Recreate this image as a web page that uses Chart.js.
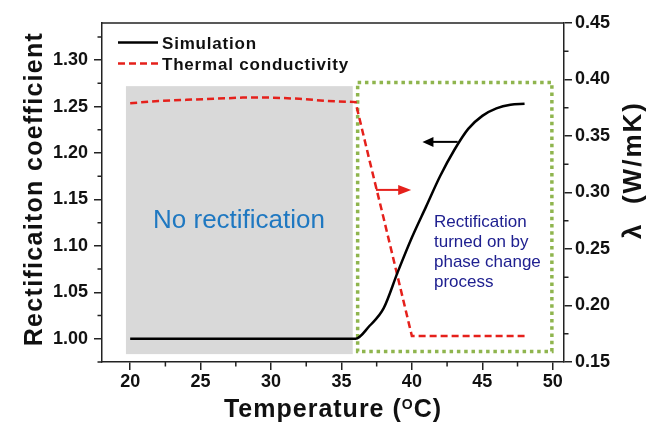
<!DOCTYPE html>
<html>
<head>
<meta charset="utf-8">
<script src="https://cdn.jsdelivr.net/npm/chart.js@4.4.0/dist/chart.umd.min.js"></script>
<style>
  html, body { margin: 0; padding: 0; background: #fff; }
</style>
</head>
<body>
<canvas id="chart" width="647" height="424"></canvas>
<script>
// values
const temperature = [20, 22, 24, 26, 28, 30, 32, 34, 36, 37, 38, 39, 40, 41, 42, 43, 44, 45, 46, 47, 48];
const simulation = [1.000, 1.000, 1.000, 1.000, 1.000, 1.000, 1.000, 1.000, 1.000, 1.014, 1.033, 1.072, 1.109, 1.142, 1.175, 1.203, 1.226, 1.240, 1.248, 1.252, 1.253];
const conductivity = [0.379, 0.381, 0.382, 0.383, 0.384, 0.384, 0.383, 0.381, 0.380, 0.328, 0.277, 0.225, 0.173, 0.173, 0.173, 0.173, 0.173, 0.173, 0.173, 0.173, 0.173];
const seriesNames = ['Simulation', 'Thermal conductivity'];

// shaded regions, in data units (x: temperature, y: left axis)
const grayRegion = { x0: 19.7, x1: 35.8, y0: 0.9835, y1: 1.272 };
const greenRegion = { x0: 36.15, x1: 49.94, y0: 0.9863, y1: 1.276 };

const FONT = '"Liberation Sans", Arial, sans-serif';

const points = (ys) => temperature.map((t, i) => ({ x: t, y: ys[i] }));

function arrow(ctx, x1, y1, x2, y2, color, len, half) {
  const a = Math.atan2(y2 - y1, x2 - x1);
  ctx.save();
  ctx.strokeStyle = color;
  ctx.fillStyle = color;
  ctx.lineWidth = 2;
  ctx.beginPath();
  ctx.moveTo(x1, y1);
  ctx.lineTo(x2 - Math.cos(a) * len * 0.8, y2 - Math.sin(a) * len * 0.8);
  ctx.stroke();
  ctx.beginPath();
  ctx.moveTo(x2, y2);
  ctx.lineTo(x2 - Math.cos(a) * len - Math.sin(a) * half, y2 - Math.sin(a) * len + Math.cos(a) * half);
  ctx.lineTo(x2 - Math.cos(a) * len + Math.sin(a) * half, y2 - Math.sin(a) * len - Math.cos(a) * half);
  ctx.closePath();
  ctx.fill();
  ctx.restore();
}

const decorations = {
  id: 'decorations',
  beforeDatasetsDraw(chart) {
    const { ctx, scales: { x, y } } = chart;
    ctx.save();
    ctx.fillStyle = '#d9d9d9';
    const gx = x.getPixelForValue(grayRegion.x0), gy = y.getPixelForValue(grayRegion.y1);
    ctx.fillRect(gx, gy, x.getPixelForValue(grayRegion.x1) - gx, y.getPixelForValue(grayRegion.y0) - gy);

    ctx.strokeStyle = '#8fb54e';
    ctx.lineWidth = 3.5;
    ctx.setLineDash([3.5, 3.8]);
    const bx = x.getPixelForValue(greenRegion.x0), by = y.getPixelForValue(greenRegion.y1);
    ctx.strokeRect(bx, by, x.getPixelForValue(greenRegion.x1) - bx, y.getPixelForValue(greenRegion.y0) - by);

    ctx.setLineDash([]);
    ctx.font = '26px ' + FONT;
    ctx.fillStyle = '#1f78c1';
    ctx.textAlign = 'center';
    ctx.fillText('No rectification', 239, 228);
    ctx.restore();
  },
  afterDatasetsDraw(chart) {
    const { ctx, chartArea: a, scales: { x, y, y1 } } = chart;
    ctx.save();

    // top of the frame
    ctx.strokeStyle = '#222';
    ctx.lineWidth = 1.5;
    ctx.beginPath();
    ctx.moveTo(a.left, a.top);
    ctx.lineTo(a.right, a.top);
    ctx.stroke();

    // minor ticks halfway between the major ones
    const minor = (scale) => {
      const v = scale.ticks.map(t => t.value);
      const step = v[1] - v[0];
      const out = [];
      for (let m = v[0] - step / 2; m <= scale.max + 1e-9; m += step) {
        if (m >= scale.min - 1e-9) out.push(m);
      }
      return out;
    };
    ctx.beginPath();
    minor(x).forEach(v => { const p = x.getPixelForValue(v); ctx.moveTo(p, a.bottom); ctx.lineTo(p, a.bottom + 4.5); });
    minor(y).forEach(v => { const p = y.getPixelForValue(v); ctx.moveTo(a.left, p); ctx.lineTo(a.left - 4.5, p); });
    minor(y1).forEach(v => { const p = y1.getPixelForValue(v); ctx.moveTo(a.right, p); ctx.lineTo(a.right + 4.5, p); });
    ctx.stroke();

    // arrows pointing at the axis of each curve
    arrow(ctx, x.getPixelForValue(43.25), y.getPixelForValue(1.212), x.getPixelForValue(40.75), y.getPixelForValue(1.212), '#000', 11, 5);
    arrow(ctx, x.getPixelForValue(37.45), y1.getPixelForValue(0.3023), x.getPixelForValue(39.95), y1.getPixelForValue(0.3023), '#e5201b', 13, 5);

    // legend
    const ds = chart.data.datasets;
    ctx.letterSpacing = '0.8px';
    ctx.font = 'bold 17px ' + FONT;
    ctx.fillStyle = '#111';
    ctx.textAlign = 'left';
    [0, 1].forEach(i => {
      const ly = a.top + 19.5 + i * 21;
      ctx.strokeStyle = ds[i].borderColor;
      ctx.lineWidth = ds[i].borderWidth;
      ctx.setLineDash(ds[i].borderDash || []);
      ctx.beginPath();
      ctx.moveTo(a.left + 16, ly);
      ctx.lineTo(a.left + 56, ly);
      ctx.stroke();
      ctx.setLineDash([]);
      ctx.fillText(seriesNames[i], a.left + 60, ly + 6.2);
    });

    // note in the green box
    ctx.letterSpacing = '0px';
    ctx.font = '17px ' + FONT;
    ctx.fillStyle = '#1f2090';
    ['Rectification', 'turned on by', 'phase change', 'process'].forEach((s, i) => {
      ctx.fillText(s, 434, 226.7 + i * 20);
    });

    // axis titles
    ctx.fillStyle = '#111';
    ctx.letterSpacing = '1px';
    const t1 = 'Temperature (', t3 = 'C)';
    ctx.font = 'bold 25px ' + FONT;
    const w1 = ctx.measureText(t1).width, w3 = ctx.measureText(t3).width;
    ctx.font = 'bold 14px ' + FONT;
    const w2 = ctx.measureText('O').width;
    let tx = (a.left + a.right) / 2 - (w1 + w2 + w3) / 2;
    ctx.font = 'bold 25px ' + FONT;
    ctx.fillText(t1, tx, 416.5);
    ctx.font = 'bold 14px ' + FONT;
    ctx.fillText('O', tx + w1, 409);
    ctx.font = 'bold 25px ' + FONT;
    ctx.fillText(t3, tx + w1 + w2, 416.5);

    ctx.textAlign = 'center';
    ctx.letterSpacing = '1.3px';
    ctx.translate(42, 189);
    ctx.rotate(-Math.PI / 2);
    ctx.fillText('Rectificaiton coefficient', 0, 0);
    ctx.setTransform(1, 0, 0, 1, 0, 0);

    ctx.letterSpacing = '2px';
    ctx.font = 'bold 26px ' + FONT;
    ctx.translate(641, 170);
    ctx.rotate(-Math.PI / 2);
    ctx.fillText('λ  (W/mK)', 0, 0);
    ctx.restore();
  }
};

const tickFont = { family: FONT, size: 18, weight: 'bold' };
const axisLine = { color: '#222', width: 1.5 };
const tickGrid = { drawOnChartArea: false, tickLength: 8, color: '#222', lineWidth: 1.5 };

new Chart(document.getElementById('chart'), {
  type: 'line',
  data: {
    datasets: [
      {
        label: seriesNames[0],
        data: points(simulation),
        yAxisID: 'y',
        borderColor: '#000',
        borderWidth: 2.5,
        pointRadius: 0,
        cubicInterpolationMode: 'monotone',
      },
      {
        label: seriesNames[1],
        data: points(conductivity),
        yAxisID: 'y1',
        borderColor: '#e5201b',
        borderWidth: 2.5,
        borderDash: [7, 4],
        pointRadius: 0,
        tension: 0,
      },
    ],
  },
  options: {
    responsive: false,
    animation: false,
    layout: { padding: { top: 23, left: 0, right: 0, bottom: 0 } },
    plugins: {
      legend: { display: false },
      tooltip: { enabled: false },
    },
    scales: {
      x: {
        type: 'linear',
        min: 18,
        max: 50.8,
        border: axisLine,
        grid: tickGrid,
        ticks: { stepSize: 5, includeBounds: false, font: tickFont, color: '#111', padding: 1, maxRotation: 0 },
        afterFit(s) { s.height = 62; },
      },
      y: {
        position: 'left',
        min: 0.975,
        max: 1.34,
        border: axisLine,
        grid: tickGrid,
        ticks: { stepSize: 0.05, includeBounds: false, font: tickFont, color: '#111', padding: 6, callback: v => v.toFixed(2) },
        afterFit(s) { s.width = 102; },
      },
      y1: {
        position: 'right',
        min: 0.15,
        max: 0.45,
        border: axisLine,
        grid: tickGrid,
        ticks: { stepSize: 0.05, includeBounds: false, font: tickFont, color: '#111', padding: 3, callback: v => v.toFixed(2) },
        afterFit(s) { s.width = 83; },
      },
    },
  },
  plugins: [decorations],
});
</script>
</body>
</html>
